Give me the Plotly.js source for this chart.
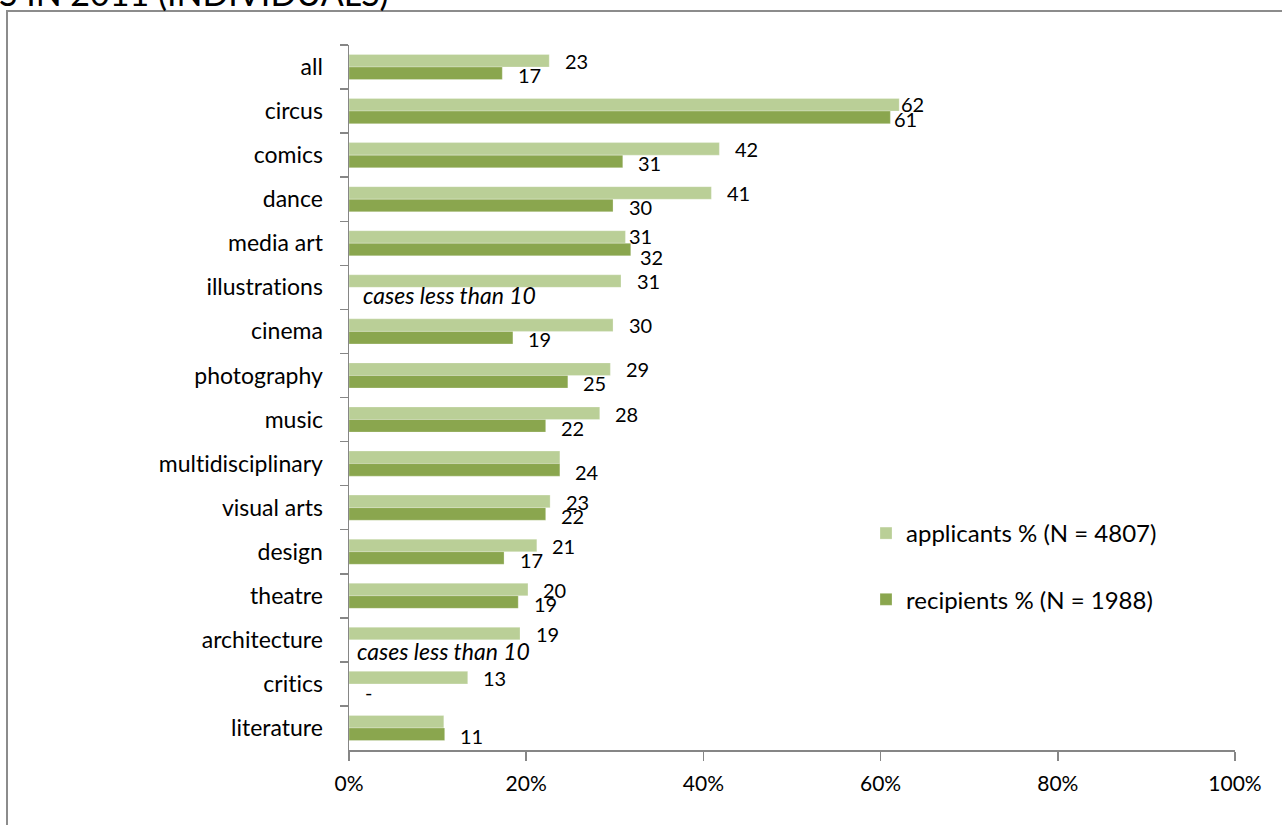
<!DOCTYPE html>
<html>
<head>
<meta charset="utf-8">
<script src="https://cdn.plot.ly/plotly-3.0.1.min.js"></script>
<style>
html,body{margin:0;padding:0;background:#fff;}
#chart{width:1282px;height:825px;}
svg text{font-variant-ligatures:none;font-feature-settings:"liga" 0;}
</style>
</head>
<body>
<div id="chart"></div>
<script>
// ---- data ----
const categories = ['all','circus','comics','dance','media art','illustrations','cinema','photography','music','multidisciplinary','visual arts','design','theatre','architecture','critics','literature'];
const applicants = [22.6, 62.1, 41.8, 40.9, 31.2, 30.7, 29.8, 29.5, 28.3, 23.8, 22.7, 21.2, 20.2, 19.3, 13.4, 10.7];
const recipients = [17.3, 61.1, 30.9, 29.8, 31.8, null, 18.5, 24.7, 22.2, 23.8, 22.2, 17.5, 19.1, null, null, 10.8];
const applicantLabels = ['23','62','42','41','31','31','30','29','28','','23','21','20','19','13',''];
const recipientLabels = ['17','61','31','30','32','cases less than 10','19','25','22','24','22','17','19','cases less than 10','-','11'];
const seriesNames = ['applicants % (N = 4807)', 'recipients % (N = 1988)'];
const titleText = 'S IN 2011 (INDIVIDUALS)';
const xTickVals = [0, 20, 40, 60, 80, 100];
const xTickText = ['0%', '20%', '40%', '60%', '80%', '100%'];

// ---- style ----
const FONT = 'Lato, "Open Sans", sans-serif';
const colApp = '#BACF97';
const colRec = '#8AA64E';
const axisCol = '#868686';
// per-category label nudges (pixels) to mimic hand-placed labels
const nudge = {
  'circus': {app: [-14, 1], rec: [-12, 0]},
  'media art': {app: [-12, 1], rec: [-6, -6]},
  'architecture': {app: [0, 0], rec: [-6, -3]}
};

// plot area in pixels
const W = 1282, H = 825;
const L = 349, R = 47, T = 45, B = 75;
const pw = W - L - R, ph = H - T - B;
const px = (x) => (x - L) / pw;
const py = (y) => 1 - (y - T) / ph;

const traces = [
  {type:'bar', orientation:'h', name: seriesNames[0], y: categories, x: applicants,
   marker:{color: colApp, line:{color:'rgba(255,255,255,0.5)', width:0.5}}, hoverinfo:'x+y', legendgroup:'a'},
  {type:'bar', orientation:'h', name: seriesNames[1], y: categories, x: recipients,
   marker:{color: colRec, line:{color:'rgba(255,255,255,0.5)', width:0.5}}, hoverinfo:'x+y', legendgroup:'b'}
];

const numFont = {family: FONT, size: 20, color:'#000'};
const annotations = [];
categories.forEach((c, i) => {
  const n = nudge[c] || {app:[0,0], rec:[0,0]};
  if (applicantLabels[i]) {
    annotations.push({x: applicants[i], y: c, xref:'x', yref:'y', text: applicantLabels[i],
      showarrow:false, xanchor:'center', yanchor:'middle', xshift: 27 + n.app[0], yshift: 6 + n.app[1],
      font: numFont});
  }
  const rl = recipientLabels[i];
  if (rl) {
    if (recipients[i] !== null) {
      annotations.push({x: recipients[i], y: c, xref:'x', yref:'y', text: rl,
        showarrow:false, xanchor:'center', yanchor:'middle', xshift: 27 + n.rec[0], yshift: -8 + n.rec[1],
        font: numFont});
    } else {
      const isNote = rl.length > 2;
      annotations.push({x: 0, y: c, xref:'x', yref:'y', text: isNote ? '<i>' + rl + '</i>' : rl,
        showarrow:false, xanchor: isNote ? 'left' : 'center', yanchor:'middle',
        xshift: (isNote ? 12 : 19) + n.rec[0], yshift: -8 + n.rec[1],
        font:{family: FONT, size: isNote ? 23 : 20, color:'#000'}});
    }
  }
});

// partially visible title (clipped at the top of the page)
annotations.push({xref:'paper', yref:'paper', x: px(-3), y: py(15), xanchor:'left', yanchor:'bottom',
  text: titleText, showarrow:false, font:{family: FONT, size: 34, color:'#000'}});

const layout = {
  width: W, height: H,
  margin: {l: L, r: R, t: T, b: B, pad: 0},
  paper_bgcolor:'#fff', plot_bgcolor:'#fff',
  font:{family: FONT, size: 20, color:'#000'},
  barmode:'group', bargap: 0.43, bargroupgap: 0,
  showlegend: true,
  legend: {x: px(866), y: py(511), xanchor:'left', yanchor:'top', bgcolor:'rgba(0,0,0,0)',
    font:{family: FONT, size: 24, color:'#000'}, itemwidth: 30, tracegroupgap: 32, traceorder:'grouped'},
  xaxis: {range:[0,100], tickvals: xTickVals, ticktext: xTickText, showgrid:false, zeroline:false,
    showline:true, linecolor: axisCol, linewidth: 1.5, ticks:'outside', ticklen: 9, tickcolor: axisCol, tickwidth: 1.5,
    ticklabelstandoff: 5,
    tickfont:{family: FONT, size: 21, color:'#000'}, fixedrange:true},
  yaxis: {type:'category', autorange:'reversed', showgrid:false, zeroline:false,
    showline:true, linecolor: axisCol, linewidth: 1.5, ticks:'outside', ticklen: 8, tickcolor: axisCol, tickwidth: 1.5,
    tickson:'boundaries', ticklabelstandoff: 20,
    tickfont:{family: FONT, size: 23, color:'#000'}, fixedrange:true},
  shapes: [
    {type:'rect', xref:'paper', yref:'paper', x0: px(7), x1: px(1300), y0: py(840), y1: py(11),
     line:{color:'#8c8c8c', width:2}, fillcolor:'rgba(0,0,0,0)', layer:'below'}
  ],
  annotations: annotations
};

Plotly.newPlot('chart', traces, layout, {displayModeBar:false, staticPlot:true});
</script>
</body>
</html>
